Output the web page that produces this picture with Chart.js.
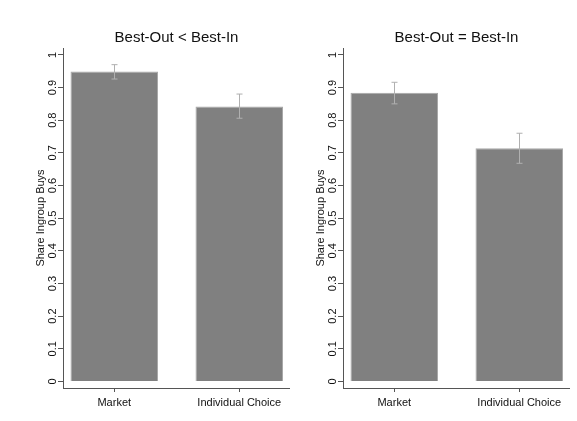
<!DOCTYPE html>
<html>
<head>
<meta charset="utf-8">
<script src="https://cdn.jsdelivr.net/npm/chart.js@4"></script>
<style>
html,body{margin:0;padding:0;background:#fff;}
#wrap{position:relative;width:577px;height:421px;background:#fff;overflow:hidden;}
canvas{position:absolute;top:0;}
#c1{left:0;}
#c2{left:280px;}
</style>
</head>
<body>
<div id="wrap">
<canvas id="c1" width="290" height="421"></canvas>
<canvas id="c2" width="290" height="421"></canvas>
</div>
<script>
// ---- data ----
const categories = ['Market', 'Individual Choice'];
const panelTitles = ['Best-Out < Best-In', 'Best-Out = Best-In'];
const yAxisTitle = 'Share Ingroup Buys';
const yTickValues = [0, 0.1, 0.2, 0.3, 0.4, 0.5, 0.6, 0.7, 0.8, 0.9, 1];

const leftMeans = [0.949, 0.842];
const leftLow   = [0.926, 0.806];
const leftHigh  = [0.970, 0.880];

const rightMeans = [0.884, 0.714];
const rightLow   = [0.850, 0.668];
const rightHigh  = [0.916, 0.760];

// ---- styling ----
const FONT = "'Liberation Sans', Arial, Helvetica, sans-serif";
const AXIS = '#555555';
const TEXT = '#111111';

const errorBarPlugin = {
  id: 'errorBars',
  afterDatasetsDraw(chart) {
    const eb = chart.options.plugins.errorBars;
    if (!eb) return;
    const {ctx, scales: {x, y}} = chart;
    ctx.save();
    ctx.strokeStyle = eb.color;
    ctx.lineWidth = 1;
    eb.low.forEach((lo, i) => {
      const hi = eb.high[i];
      const px = Math.round(x.getPixelForValue(i)) + 0.5;
      const pl = y.getPixelForValue(lo);
      const ph = y.getPixelForValue(hi);
      ctx.beginPath();
      ctx.moveTo(px, pl); ctx.lineTo(px, ph);
      ctx.moveTo(px - 3, ph); ctx.lineTo(px + 3, ph);
      ctx.moveTo(px - 3, pl); ctx.lineTo(px + 3, pl);
      ctx.stroke();
    });
    ctx.restore();
  }
};

function makeChart(id, title, means, low, high) {
  return new Chart(document.getElementById(id), {
    type: 'bar',
    data: {
      datasets: [{
        data: means.map((v, i) => ({x: i, y: v})),
        backgroundColor: '#808080',
        borderColor: '#a8a8a8',
        borderWidth: 1,
        barPercentage: 0.7,
        categoryPercentage: 1.0
      }]
    },
    options: {
      responsive: false,
      animation: false,
      devicePixelRatio: 1,
      layout: {padding: {left: 0, right: 0, top: 0, bottom: 0}},
      plugins: {
        legend: {display: false},
        tooltip: {enabled: false},
        title: {
          display: true,
          text: title,
          fullSize: false,
          color: TEXT,
          font: {family: FONT, size: 15, weight: 'normal'},
          padding: {top: 29, bottom: 1}
        },
        errorBars: {low: low, high: high, color: '#b0b0b0'}
      },
      scales: {
        x: {
          type: 'linear',
          offset: false,
          bounds: 'data',
          min: -0.41,
          max: 1.406,
          afterBuildTicks(scale) {
            scale.ticks = categories.map((c, i) => ({value: i}));
          },
          afterFit(scale) { scale.height = 33; },
          grid: {display: true, drawOnChartArea: false, drawTicks: true, tickLength: 4, color: AXIS, offset: false},
          border: {display: true, color: AXIS, width: 1},
          ticks: {
            autoSkip: false,
            padding: 4,
            color: TEXT,
            font: {family: FONT, size: 11},
            callback: (v) => categories[v] ?? ''
          }
        },
        y: {
          type: 'linear',
          min: -0.02,
          max: 1.021,
          afterBuildTicks(scale) {
            scale.ticks = yTickValues.map(v => ({value: v}));
          },
          afterFit(scale) { scale.width = 63; },
          grid: {display: true, drawOnChartArea: false, drawTicks: true, tickLength: 5, color: AXIS},
          border: {display: true, color: AXIS, width: 1},
          title: {
            display: true,
            text: yAxisTitle,
            color: TEXT,
            font: {family: FONT, size: 11},
            padding: {top: 34, bottom: 0}
          },
          ticks: {
            autoSkip: false,
            minRotation: 90,
            maxRotation: 90,
            crossAlign: 'center',
            padding: -3,
            color: TEXT,
            font: {family: FONT, size: 11},
            callback: (v) => String(Math.round(v * 10) / 10)
          }
        }
      }
    },
    plugins: [errorBarPlugin]
  });
}

makeChart('c1', panelTitles[0], leftMeans, leftLow, leftHigh);
makeChart('c2', panelTitles[1], rightMeans, rightLow, rightHigh);
</script>
</body>
</html>
